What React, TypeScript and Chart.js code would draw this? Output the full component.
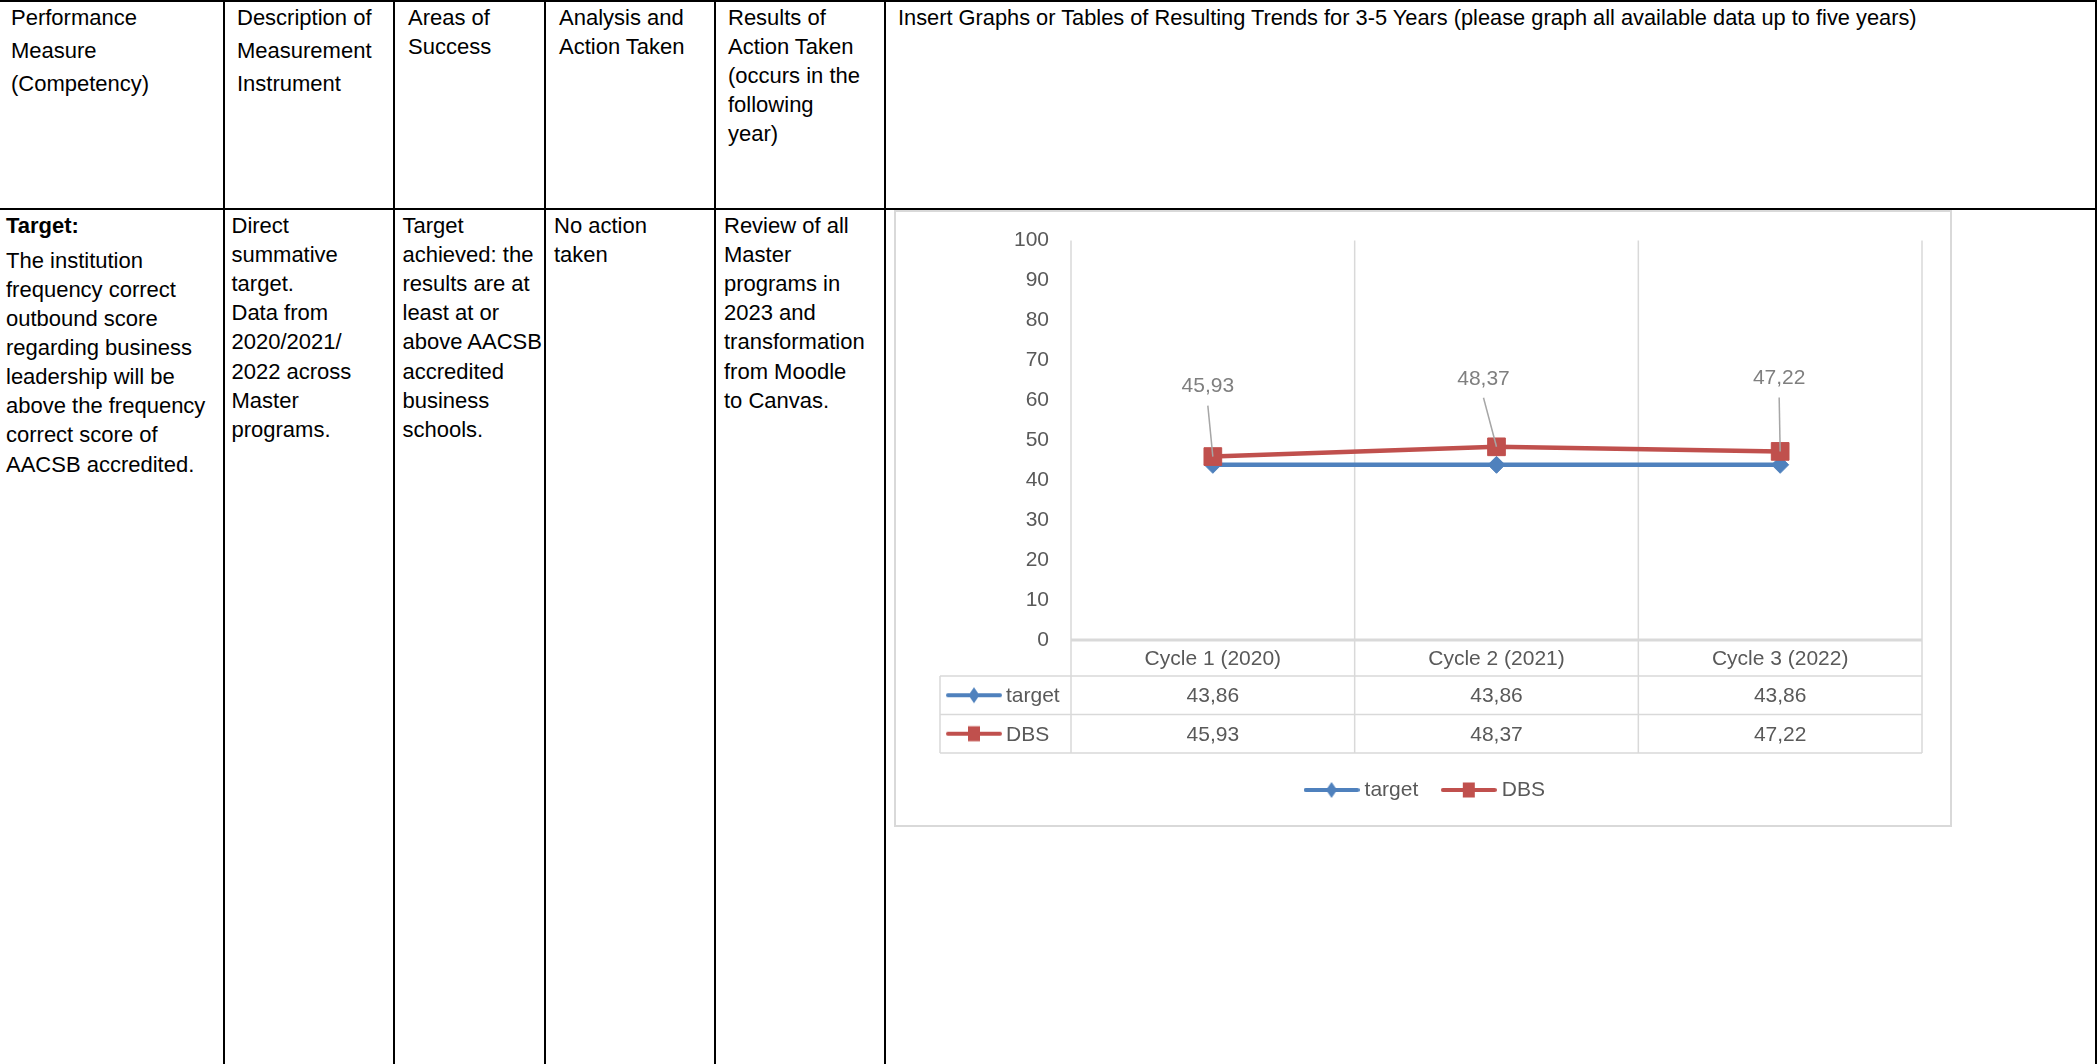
import React, { useEffect, useRef } from "react";
import { Chart, registerables } from "chart.js";

Chart.register(...registerables);

// ---- data ----
const categories: string[] = ["Cycle 1 (2020)", "Cycle 2 (2021)", "Cycle 3 (2022)"];
const targetValues: number[] = [43.86, 43.86, 43.86];
const dbsValues: number[] = [45.93, 48.37, 47.22];
const seriesLabels: string[] = ["target", "DBS"];
const yTickValues: number[] = [0, 10, 20, 30, 40, 50, 60, 70, 80, 90, 100];

// ---- table text ----
const headerCells: string[][] = [
  ["Performance", "Measure", "(Competency)"],
  ["Description of", "Measurement", "Instrument"],
  ["Areas of", "Success"],
  ["Analysis and", "Action Taken"],
  ["Results of", "Action Taken", "(occurs in the", "following", "year)"],
  ["Insert Graphs or Tables of Resulting Trends for 3-5 Years (please graph all available data up to five years)"],
];
const bodyLead = "Target:";
const bodyCells: string[][] = [
  ["The institution", "frequency correct", "outbound score", "regarding business", "leadership will be", "above the frequency", "correct score of", "AACSB accredited."],
  ["Direct", "summative", "target.", "Data from", "2020/2021/", "2022 across", "Master", "programs."],
  ["Target", "achieved: the", "results are at", "least at or", "above AACSB", "accredited", "business", "schools."],
  ["No action", "taken"],
  ["Review of all", "Master", "programs in", "2023 and", "transformation", "from Moodle", "to Canvas."],
];

const BLUE = "#4f81bd";
const RED = "#c0504d";
const GRID = "#d9d9d9";
const AXIS_TEXT = "#595959";
const LABEL_TEXT = "#7f7f7f";
const LEADER = "#a6a6a6";
const FONT = "'Liberation Sans', Arial, sans-serif";

const fmt = (v: number) => v.toFixed(2).replace(".", ",");

function makeKey(color: string, marker: "diamond" | "square"): HTMLCanvasElement {
  const c = document.createElement("canvas");
  c.width = 56;
  c.height = 20;
  const g = c.getContext("2d")!;
  g.strokeStyle = color;
  g.lineWidth = 4;
  g.lineCap = "round";
  g.beginPath();
  g.moveTo(2, 10);
  g.lineTo(54, 10);
  g.stroke();
  g.fillStyle = color;
  if (marker === "diamond") {
    g.beginPath();
    g.moveTo(28, 2);
    g.lineTo(33.5, 10);
    g.lineTo(28, 18);
    g.lineTo(22.5, 10);
    g.closePath();
    g.fill();
  } else {
    g.fillRect(22, 2.5, 12, 15);
  }
  return c;
}

const LH = 29.15;
const headerLH = [33.3, 33.3, 29.15, 29.15, 29.15, 29.15];
const headerLeft = [11, 237, 408, 559, 728, 898];
const bodyLeft = [6, 231.5, 402.5, 554, 724];
const vLines = [223, 393, 544, 714, 884, 2095];

function ChartBox() {
  const ref = useRef<HTMLCanvasElement | null>(null);
  useEffect(() => {
    const canvas = ref.current;
    if (!canvas) return;
    const keys = [makeKey(BLUE, "diamond"), makeKey(RED, "square")];
    const labelOffsets = [
      { dx: -5, dy: -70 },
      { dx: -13, dy: -68 },
      { dx: -1, dy: -73 },
    ];

    const tablePlugin = {
      id: "dataTable",
      beforeDatasetsDraw(chart: any) {
        const { ctx, chartArea } = chart;
        const xs = chart.scales.x;
        const labels: string[] = chart.data.labels;
        const n = labels.length;
        const step = xs.getPixelForTick(1) - xs.getPixelForTick(0);
        const bounds: number[] = [];
        for (let i = 0; i <= n; i++) bounds.push(xs.getPixelForTick(0) + (i - 0.5) * step);
        const headH = 36;
        const rowH = 38.5;
        const keyLeft = 45;
        const dsets = chart.data.datasets;
        const rowsTop = chartArea.bottom + headH;
        const tableBottom = rowsTop + rowH * dsets.length;
        ctx.save();
        ctx.strokeStyle = GRID;
        ctx.lineWidth = 1.5;
        ctx.beginPath();
        for (const b of bounds) {
          ctx.moveTo(b, chartArea.top);
          ctx.lineTo(b, tableBottom);
        }
        for (let r = 0; r <= dsets.length; r++) {
          const y = rowsTop + r * rowH;
          ctx.moveTo(keyLeft, y);
          ctx.lineTo(bounds[n], y);
        }
        ctx.moveTo(keyLeft, rowsTop);
        ctx.lineTo(keyLeft, tableBottom);
        ctx.stroke();
        ctx.lineWidth = 3;
        ctx.beginPath();
        ctx.moveTo(bounds[0], chartArea.bottom);
        ctx.lineTo(bounds[n], chartArea.bottom);
        ctx.stroke();

        ctx.fillStyle = AXIS_TEXT;
        ctx.font = `21px ${FONT}`;
        ctx.textBaseline = "middle";
        ctx.textAlign = "center";
        labels.forEach((l, i) => ctx.fillText(l, xs.getPixelForTick(i), chartArea.bottom + headH / 2 + 1));
        dsets.forEach((ds: any, r: number) => {
          const cy = rowsTop + r * rowH + rowH / 2 + 1;
          ctx.drawImage(keys[r], 79 - 28, cy - 11);
          ctx.textAlign = "left";
          ctx.fillText(ds.label, 111, cy);
          ctx.textAlign = "center";
          (ds.data as number[]).forEach((v, i) => ctx.fillText(fmt(v), xs.getPixelForTick(i), cy));
        });
        ctx.restore();
      },
    };

    const leaderPlugin = {
      id: "leaderLabels",
      afterDatasetsDraw(chart: any) {
        const { ctx } = chart;
        const idx = 1;
        const meta = chart.getDatasetMeta(idx);
        const ds = chart.data.datasets[idx];
        ctx.save();
        ctx.font = `21px ${FONT}`;
        ctx.textAlign = "center";
        ctx.textBaseline = "middle";
        meta.data.forEach((pt: any, i: number) => {
          const off = labelOffsets[i] || { dx: 0, dy: -70 };
          const lx = pt.x + off.dx;
          const ly = pt.y + off.dy;
          ctx.strokeStyle = LEADER;
          ctx.lineWidth = 1.5;
          ctx.beginPath();
          ctx.moveTo(lx, ly + 19);
          ctx.lineTo(pt.x, pt.y);
          ctx.stroke();
          ctx.fillStyle = LABEL_TEXT;
          ctx.fillText(fmt(ds.data[i]), lx, ly);
        });
        ctx.restore();
      },
    };

    const chart = new Chart(canvas, {
      type: "line",
      data: {
        labels: categories,
        datasets: [
          {
            label: seriesLabels[0],
            data: targetValues,
            borderColor: BLUE,
            backgroundColor: BLUE,
            borderWidth: 4.5,
            pointStyle: "rectRot",
            pointRadius: 8.5,
            pointBorderWidth: 1,
            pointBackgroundColor: BLUE,
            pointBorderColor: BLUE,
            tension: 0,
            order: 1,
          },
          {
            label: seriesLabels[1],
            data: dbsValues,
            borderColor: RED,
            backgroundColor: RED,
            borderWidth: 4.5,
            pointStyle: "rect",
            pointRadius: 12.5,
            pointBorderWidth: 1,
            pointBackgroundColor: RED,
            pointBorderColor: RED,
            tension: 0,
            order: 0,
          },
        ],
      },
      options: {
        animation: false,
        responsive: false,
        layout: { padding: { left: 37, right: 29, top: 28, bottom: 11.5 } },
        scales: {
          x: {
            type: "category",
            offset: true,
            grid: { display: false, drawTicks: false },
            border: { display: false },
            ticks: { display: false },
            afterFit: (s: any) => {
              s.height = 111.5;
            },
          },
          y: {
            min: 0,
            max: 100,
            grid: { display: false, drawTicks: false },
            border: { display: false },
            ticks: { color: AXIS_TEXT, font: { family: FONT, size: 21 }, padding: 22 },
            afterBuildTicks: (s: any) => {
              s.ticks = yTickValues.map((v) => ({ value: v }));
            },
            afterFit: (s: any) => {
              s.width = 139;
            },
          },
        },
        plugins: {
          tooltip: { enabled: false },
          legend: {
            position: "bottom",
            maxHeight: 64,
            labels: {
              usePointStyle: true,
              pointStyleWidth: 45,
              padding: 28,
              color: AXIS_TEXT,
              font: { family: FONT, size: 21 },
              generateLabels: (c: any) =>
                c.data.datasets.map((ds: any, i: number) => ({
                  text: ds.label,
                  pointStyle: keys[i],
                  fillStyle: ds.borderColor,
                  strokeStyle: ds.borderColor,
                  lineWidth: 0,
                  hidden: false,
                  datasetIndex: i,
                  fontColor: AXIS_TEXT,
                })),
            },
          },
        },
      } as any,
      plugins: [tablePlugin, leaderPlugin],
    });
    return () => chart.destroy();
  }, []);
  return (
    <canvas
      ref={ref}
      width={1056}
      height={616}
      style={{ position: "absolute", left: 895, top: 206, width: 1056, height: 616, display: "block" }}
    />
  );
}

export default function App() {
  const abs = (s: React.CSSProperties): React.CSSProperties => ({ position: "absolute", ...s });
  const lineStyle: React.CSSProperties = {
    fontSize: 22,
    lineHeight: `${LH}px`,
    whiteSpace: "pre",
  };
  return (
    <div
      style={{
        position: "absolute",
        left: 0,
        top: 0,
        width: 2100,
        height: 1064,
        overflow: "hidden",
        background: "#ffffff",
        fontFamily: FONT,
        color: "#000000",
      }}
    >
      {/* table borders */}
      <div style={abs({ left: 0, top: 0, width: 2097, height: 2, background: "#000" })} />
      <div style={abs({ left: 0, top: 208, width: 2097, height: 2, background: "#000" })} />
      {vLines.map((x, i) => (
        <div key={"v" + i} style={abs({ left: x, top: 0, width: 2, height: 1064, background: "#000" })} />
      ))}

      {/* header row */}
      {headerCells.map((lines, i) => (
        <div
          key={"h" + i}
          style={abs({
            left: headerLeft[i],
            top: 25 - ((headerLH[i] - 24.57) / 2 + 19.91),
            ...lineStyle,
            lineHeight: `${headerLH[i]}px`,
            fontSize: i === 5 ? 21.8 : 22,
          })}
        >
          {lines.map((l, j) => (
            <div key={j}>{l}</div>
          ))}
        </div>
      ))}

      {/* body row */}
      <div style={abs({ left: bodyLeft[0], top: 210.8, ...lineStyle, fontWeight: "bold" })}>{bodyLead}</div>
      {bodyCells.map((lines, i) => (
        <div key={"b" + i} style={abs({ left: bodyLeft[i], top: i === 0 ? 245.5 : 210.8, ...lineStyle })}>
          {lines.map((l, j) => (
            <div key={j}>{l}</div>
          ))}
        </div>
      ))}

      {/* chart frame */}
      <div
        style={abs({
          left: 894,
          top: 210,
          width: 1058,
          height: 617,
          boxSizing: "border-box",
          border: `2px solid ${GRID}`,
          background: "#fff",
        })}
      />
      <ChartBox />
    </div>
  );
}
